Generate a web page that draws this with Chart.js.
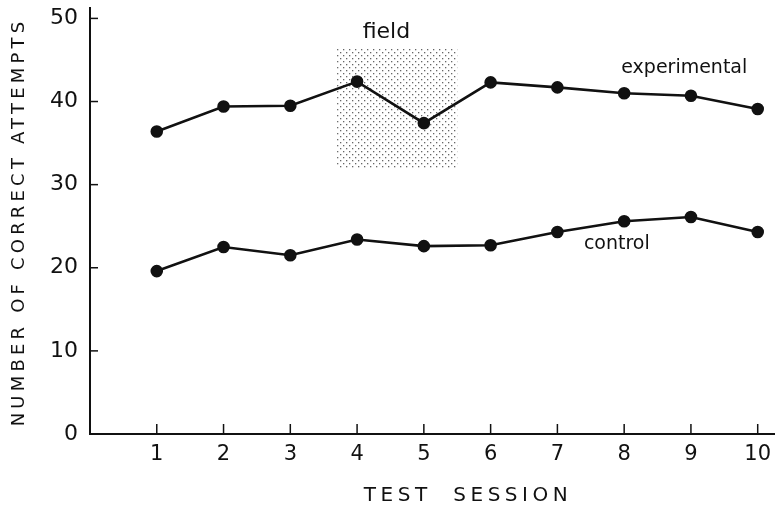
<!DOCTYPE html>
<html><head><meta charset="utf-8">
<script src="https://cdn.jsdelivr.net/npm/chart.js@4.4.1/dist/chart.umd.min.js"></script>
<style>html,body{margin:0;padding:0;background:#fff}#wrap{width:782px;height:508px}</style>
</head><body><div id="wrap"><canvas id="c" width="782" height="508"></canvas></div>
<script>
const sessions = [1,2,3,4,5,6,7,8,9,10];
const experimental = [36.4,39.4,39.5,42.4,37.4,42.3,41.7,41.0,40.7,39.1];
const control = [19.6,22.5,21.5,23.4,22.6,22.7,24.3,25.6,26.1,24.3];
const yTicks = [0,10,20,30,40,50];
const xTicks = [1,2,3,4,5,6,7,8,9,10];
const fieldBox = {x0:3.7, x1:5.5, y0:32.0, y1:46.4};
const notes = [
  {text:'field', x:4.44, y:48.3, size:22},
  {text:'experimental', x:8.9, y:44.0, size:19},
  {text:'control', x:7.89, y:22.8, size:19}
];
const xTitle = 'TEST  SESSION';
const yTitle = 'NUMBER OF CORRECT ATTEMPTS';

const FONT = '"DejaVu Sans", sans-serif';

function stipple(ctx){
  const p = document.createElement('canvas');
  p.width = 6; p.height = 6;
  const g = p.getContext('2d');
  g.fillStyle = '#fff'; g.fillRect(0,0,6,6);
  g.fillStyle = '#666';
  g.fillRect(1,1,1.3,1.3);
  g.fillRect(4,4,1.3,1.3);
  return ctx.createPattern(p,'repeat');
}

const deco = {
  id:'deco',
  beforeDatasetsDraw(chart){
    const {ctx, scales:{x,y}} = chart;
    ctx.save();
    const L = x.getPixelForValue(fieldBox.x0), R = x.getPixelForValue(fieldBox.x1);
    const T = y.getPixelForValue(fieldBox.y1), B = y.getPixelForValue(fieldBox.y0);
    ctx.fillStyle = stipple(ctx);
    ctx.fillRect(L,T,R-L,B-T);
    ctx.strokeStyle = '#111'; ctx.lineWidth = 1.5;
    yTicks.forEach(v=>{const py=y.getPixelForValue(v);ctx.beginPath();ctx.moveTo(x.left,py);ctx.lineTo(x.left+8,py);ctx.stroke();});
    xTicks.forEach(v=>{const px=x.getPixelForValue(v);ctx.beginPath();ctx.moveTo(px,y.bottom);ctx.lineTo(px,y.bottom-10);ctx.stroke();});
    ctx.restore();
  },
  afterDraw(chart){
    const {ctx, scales:{x,y}} = chart;
    ctx.save();
    ctx.fillStyle = '#111';
    ctx.textAlign='center'; ctx.textBaseline='middle';
    notes.forEach(n=>{ctx.font = n.size+'px ' + FONT; ctx.fillText(n.text, x.getPixelForValue(n.x), y.getPixelForValue(n.y));});
    ctx.font = '20px ' + FONT;
    ctx.letterSpacing = '4.5px';
    ctx.fillText(xTitle, 468, 496);
    ctx.save();
    ctx.translate(19, 222);
    ctx.rotate(-Math.PI/2);
    ctx.font = '18px ' + FONT;
    ctx.letterSpacing = '4.2px';
    ctx.fillText(yTitle, 0, 0);
    ctx.restore();
    ctx.restore();
  }
};

new Chart(document.getElementById('c'), {
  type:'line',
  data:{datasets:[
    {label:'experimental', data:sessions.map((s,i)=>({x:s,y:experimental[i]})), borderColor:'#111', backgroundColor:'#111', borderWidth:2.6, pointRadius:5, pointBackgroundColor:'#111', tension:0},
    {label:'control', data:sessions.map((s,i)=>({x:s,y:control[i]})), borderColor:'#111', backgroundColor:'#111', borderWidth:2.6, pointRadius:5, pointBackgroundColor:'#111', tension:0}
  ]},
  options:{
    responsive:false, animation:false, devicePixelRatio:1,
    layout:{padding:{top:7,right:4,left:0,bottom:0}},
    plugins:{legend:{display:false}, tooltip:{enabled:false}},
    scales:{
      x:{type:'linear', min:0, max:10.25,
        afterBuildTicks(s){s.ticks = xTicks.map(v=>({value:v}));},
        afterFit(s){s.height = 74; s.paddingLeft = 0; s.paddingRight = 0;},
        grid:{display:false, drawTicks:false},
        border:{display:true, color:'#111', width:2},
        ticks:{color:'#111', font:{size:21, family:FONT}, padding:8, maxRotation:0}
      },
      y:{type:'linear', min:0, max:51.3,
        afterBuildTicks(s){s.ticks = yTicks.map(v=>({value:v}));},
        afterFit(s){s.width = 90; s.paddingTop = 0; s.paddingBottom = 0;},
        grid:{display:false, drawTicks:false},
        border:{display:true, color:'#111', width:2},
        ticks:{color:'#111', font:{size:22, family:FONT}, padding:12}
      }
    }
  },
  plugins:[deco]
});
</script></body></html>
